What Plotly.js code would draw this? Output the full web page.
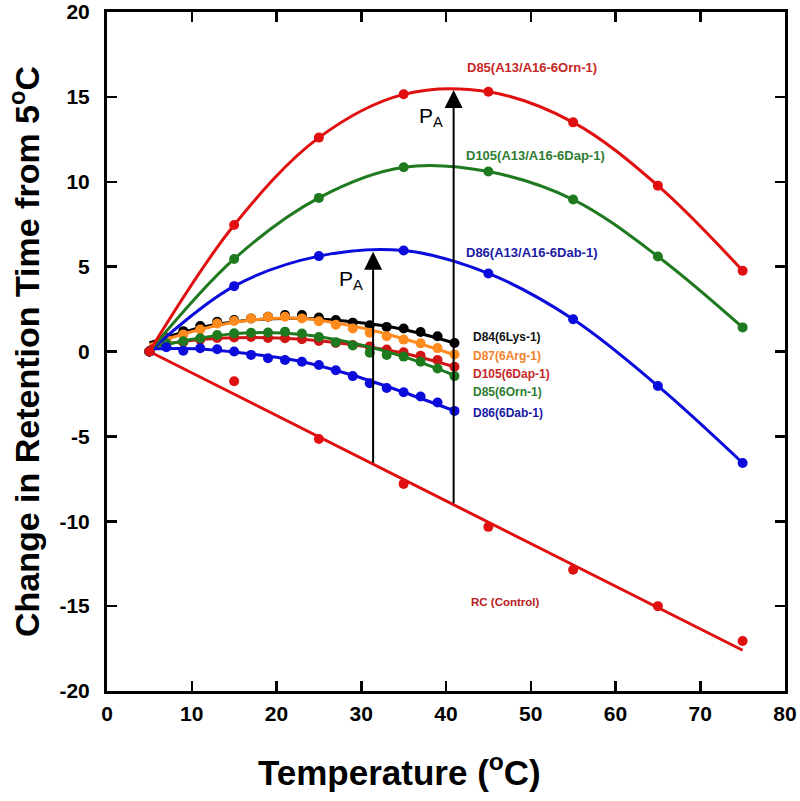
<!DOCTYPE html>
<html>
<head>
<meta charset="utf-8">
<script src="https://cdn.plot.ly/plotly-3.0.1.min.js"></script>
<style>html,body{margin:0;padding:0;background:#fff;}#chart{width:800px;height:801px;}</style>
</head>
<body>
<div id="chart"></div>
<script>
// ---- data ----
const tBig = [5, 15, 25, 35, 45, 55, 65, 75];
const d85A = [0, 7.45, 12.6, 15.15, 15.3, 13.5, 9.77, 4.76];
const d105A = [0, 5.45, 9.05, 10.85, 10.6, 8.95, 5.6, 1.42];
const d86A = [0, 3.85, 5.62, 5.95, 4.6, 1.9, -2.03, -6.57];
const rcPts = [0, -1.75, -5.15, -7.8, -10.33, -12.86, -15.0, -17.05];
const rcFitT = [5, 75];
const rcFit = [0, -17.6];

const tSmall = [5, 7, 9, 11, 13, 15, 17, 19, 21, 23, 25, 27, 29, 31, 33, 35, 37, 39, 41];
const d84 = [0, 0.8, 1.2, 1.5, 1.75, 1.85, 1.95, 2.05, 2.15, 2.15, 2.0, 1.85, 1.7, 1.55, 1.45, 1.35, 1.15, 0.9, 0.5];
const d87 = [0, 0.72, 1.0, 1.3, 1.65, 1.8, 1.95, 2.05, 2.05, 1.95, 1.78, 1.58, 1.35, 1.1, 0.9, 0.7, 0.48, 0.2, -0.17];
const d105 = [0, 0.4, 0.55, 0.7, 0.8, 0.82, 0.85, 0.8, 0.78, 0.72, 0.62, 0.5, 0.38, 0.3, 0.12, -0.05, -0.25, -0.5, -0.9];
const d85 = [0, 0.48, 0.6, 0.78, 0.97, 1.07, 1.1, 1.12, 1.17, 1.06, 0.85, 0.55, 0.35, -0.07, -0.2, -0.3, -0.6, -1.0, -1.45];
const d86 = [0, 0.25, 0.05, 0.19, 0.13, 0, -0.2, -0.4, -0.5, -0.6, -0.8, -1.1, -1.45, -1.87, -2.15, -2.4, -2.65, -3.0, -3.5];

const tFit = [5, 11, 17, 23, 29, 35, 41];
const d84Fit = [0.5, 1.4, 1.85, 1.95, 1.75, 1.3, 0.5];
const d87Fit = [0.4, 1.3, 1.85, 1.95, 1.5, 0.75, -0.2];
const d105Fit = [0.3, 0.7, 0.82, 0.72, 0.4, -0.1, -0.9];
const d85Fit = [0.2, 0.8, 1.1, 1.0, 0.5, -0.3, -1.4];
const d86Fit = [0.15, 0.15, -0.15, -0.6, -1.4, -2.4, -3.5];

const xTicks = [0, 10, 20, 30, 40, 50, 60, 70, 80];
const yTicks = [-20, -15, -10, -5, 0, 5, 10, 15, 20];

// ---- colors ----
const RED = '#e01010', GREEN = '#1f7a1f', BLUE = '#0b0bdc', ORANGE = '#ff8a1e', BLACK = '#000000', DRED = '#d01515';

function fitLine(x, y, c) {
  return {x: x, y: y, type: 'scatter', mode: 'lines', line: {color: c, width: 3, shape: 'spline', smoothing: 1.0}, hoverinfo: 'skip', showlegend: false};
}
function pts(x, y, c, s) {
  return {x: x, y: y, type: 'scatter', mode: 'markers', marker: {color: c, size: s}, showlegend: false};
}

const traces = [
  {x: rcFitT, y: rcFit, type: 'scatter', mode: 'lines', line: {color: RED, width: 3}, showlegend: false},
  pts(tBig, rcPts, RED, 10),
  fitLine(tFit, d84Fit, BLACK), pts(tSmall, d84, BLACK, 10),
  fitLine(tFit, d87Fit, ORANGE), pts(tSmall, d87, ORANGE, 10),
  fitLine(tFit, d105Fit, DRED), pts(tSmall, d105, DRED, 10),
  fitLine(tFit, d85Fit, GREEN), pts(tSmall, d85, GREEN, 10),
  fitLine(tFit, d86Fit, BLUE), pts(tSmall, d86, BLUE, 10),
  fitLine(tBig, d86A, BLUE), pts(tBig, d86A, BLUE, 10),
  fitLine(tBig, d105A, GREEN), pts(tBig, d105A, GREEN, 10),
  fitLine(tBig, d85A, RED), pts(tBig, d85A, RED, 10)
];

const FAM = 'Arial, Liberation Sans, sans-serif';
const lblFont = (c, s) => ({family: FAM, size: s || 12, color: c, weight: 'bold'});

const annotations = [
  {x: 50.1, y: 16.73, text: 'D85(A13/A16-6Orn-1)', font: lblFont('#c62828', 13)},
  {x: 50.6, y: 11.53, text: 'D105(A13/A16-6Dap-1)', font: lblFont('#2e7d32', 13)},
  {x: 50.1, y: 5.84, text: 'D86(A13/A16-6Dab-1)', font: lblFont('#1a1aa6', 13)},
  {x: 42.9, y: 0.85, text: 'D84(6Lys-1)', xanchor: 'left', font: lblFont('#111111')},
  {x: 42.9, y: -0.27, text: 'D87(6Arg-1)', xanchor: 'left', font: lblFont('#f0822a')},
  {x: 42.9, y: -1.32, text: 'D105(6Dap-1)', xanchor: 'left', font: lblFont('#c62828')},
  {x: 42.9, y: -2.38, text: 'D85(6Orn-1)', xanchor: 'left', font: lblFont('#2e7d32')},
  {x: 42.9, y: -3.62, text: 'D86(6Dab-1)', xanchor: 'left', font: lblFont('#1a1aa6')},
  {x: 42.7, y: -14.75, text: 'RC (Control)', xanchor: 'left', font: lblFont('#b82020', 11.5)},
  {x: 28.8, y: 4.2, text: 'P<sub>A</sub>', font: {family: FAM, size: 21, color: '#000'}},
  {x: 38.2, y: 13.8, text: 'P<sub>A</sub>', font: {family: FAM, size: 21, color: '#000'}},
  {x: 31.4, y: 5.88, ax: 31.4, ay: -6.64, axref: 'x', ayref: 'y', text: '', showarrow: true, arrowhead: 2, arrowsize: 1.8, arrowwidth: 2, arrowcolor: '#000', standoff: 0},
  {x: 40.9, y: 15.4, ax: 40.9, ay: -9.03, axref: 'x', ayref: 'y', text: '', showarrow: true, arrowhead: 2, arrowsize: 1.8, arrowwidth: 2, arrowcolor: '#000', standoff: 0},
  {xref: 'paper', yref: 'paper', x: 0.432, y: -0.116, xanchor: 'center', yanchor: 'middle', text: 'Temperature (<sup>o</sup>C)', font: {family: FAM, size: 35, color: '#000', weight: 'bold'}}
].map(a => Object.assign({xref: 'x', yref: 'y', showarrow: false}, a));

const tickFont = {family: FAM, size: 21, color: '#000', weight: 'bold'};

const layout = {
  width: 800, height: 801,
  margin: {l: 107, r: 15, t: 12, b: 110},
  paper_bgcolor: '#fff', plot_bgcolor: '#fff',
  showlegend: false,
  xaxis: {
    range: [0, 80], tickvals: xTicks, ticktext: xTicks.map(String),
    showline: true, linewidth: 3, linecolor: '#000', mirror: 'ticks',
    ticks: 'inside', ticklen: 10, tickwidth: 2.5, tickcolor: '#000',
    showgrid: false, zeroline: false, tickfont: tickFont, ticklabelstandoff: 2
  },
  yaxis: {
    range: [-20, 20], tickvals: yTicks, ticktext: yTicks.map(String),
    showline: true, linewidth: 3, linecolor: '#000', mirror: 'ticks',
    ticks: 'inside', ticklen: 10, tickwidth: 2.5, tickcolor: '#000',
    showgrid: false, zeroline: false, tickfont: tickFont, ticklabelstandoff: 10,
    title: {text: 'Change in Retention Time from 5<sup>o</sup>C', font: {family: FAM, size: 34, color: '#000', weight: 'bold'}, standoff: 10}
  },
  annotations: annotations
};

Plotly.newPlot('chart', traces, layout, {displayModeBar: false, staticPlot: true});
</script>
</body>
</html>
